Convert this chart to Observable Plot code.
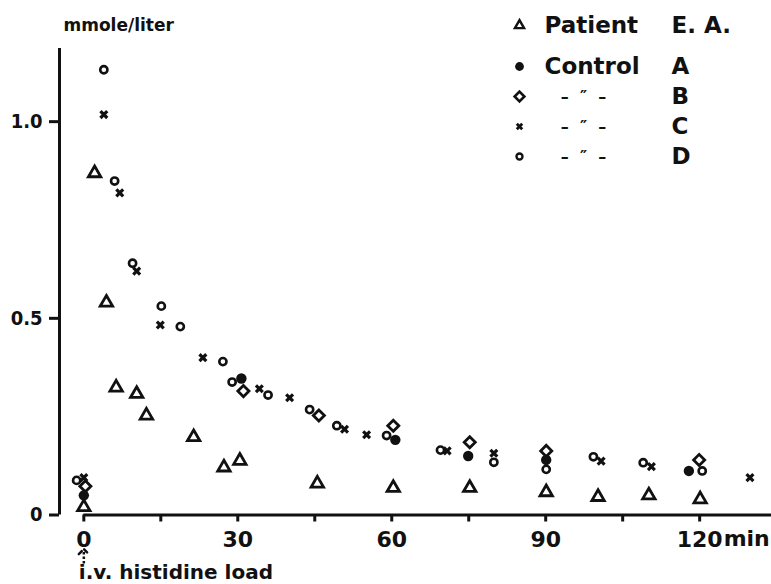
<!DOCTYPE html>
<html>
<head>
<meta charset="utf-8">
<script src="https://cdn.jsdelivr.net/npm/d3@7"></script>
<script src="https://cdn.jsdelivr.net/npm/@observablehq/plot@0.6"></script>
<style>
  html, body { margin: 0; padding: 0; background: #fff; }
  #wrap { position: relative; width: 771px; height: 584px; }
  #legend { position: absolute; left: 490px; top: 0; }
</style>
</head>
<body>
<div id="wrap"><div id="chart"></div><div id="legend"></div></div>
<script>
// ---- data (minutes after i.v. histidine load, mmole/liter) ----
const patientT = [0, 2.1, 4.4, 6.3, 10.3, 12.2, 21.4, 27.3, 30.4, 45.5, 60.3, 75.2, 90.1, 100.2, 110.1, 120.1];
const patientV = [0.02, 0.869, 0.54, 0.324, 0.308, 0.253, 0.198, 0.121, 0.138, 0.080, 0.069, 0.069, 0.058, 0.046, 0.050, 0.040];

const controlA_T = [0, 30.7, 60.7, 74.9, 90.1, 117.9];
const controlA_V = [0.05, 0.347, 0.191, 0.150, 0.140, 0.112];

const controlB_T = [0.3, 31.1, 45.8, 60.3, 75.2, 90.1, 119.9];
const controlB_V = [0.073, 0.315, 0.253, 0.227, 0.185, 0.163, 0.140];

const controlC_T = [0, 3.9, 7.0, 10.3, 14.9, 23.2, 34.2, 40.1, 50.8, 55.1, 70.8, 79.9, 100.8, 110.6, 129.8];
const controlC_V = [0.095, 1.018, 0.819, 0.620, 0.483, 0.400, 0.321, 0.298, 0.218, 0.204, 0.163, 0.157, 0.137, 0.123, 0.095];

const controlD_T = [-1.4, 3.9, 6.0, 9.5, 15.1, 18.8, 27.1, 28.9, 35.9, 44.0, 49.3, 59.0, 69.5, 79.9, 90.1, 99.3, 109.0, 120.5];
const controlD_V = [0.088, 1.132, 0.849, 0.640, 0.531, 0.479, 0.390, 0.338, 0.305, 0.268, 0.227, 0.202, 0.165, 0.134, 0.116, 0.148, 0.133, 0.112];

// axes
const xDomain = [-4.74, 134];
const yDomain = [0, 1.186];
const xTickMarks = [0, 15, 30, 45, 60, 75, 90, 105, 120];
const xTickLabels = [0, 30, 60, 90, 120];
const yTicks = [0, 0.5, 1.0];
const yLabel = "mmole/liter";
const xUnit = "min";
const loadTime = 0;
const loadLabel = "i.v. histidine load";
const loadArrow = [-0.123, -0.093]; // arrow from / to (below the axis)

// legend
const legendHeader = { label: "Patient", code: "E. A.", symbol: "triangle" };
const legendCodes = ["A", "B", "C", "D"];
const legendLabels = ["Control", "–  \u2033  –", "–  \u2033  –", "–  \u2033  –"];
const legendSymbols = ["circle", "diamond2", "times", "circle"];
const legendFilled = [true, false, false, false];

const rows = (T, V) => T.map((t, i) => ({ t, v: V[i] }));
const patient = rows(patientT, patientV);
const A = rows(controlA_T, controlA_V);
const B = rows(controlB_T, controlB_V);
const C = rows(controlC_T, controlC_V);
const D = rows(controlD_T, controlD_V);

const FONT = "DejaVu Sans";
const INK = "#111";

const chart = Plot.plot({
  width: 771,
  height: 584,
  marginLeft: 59,
  marginRight: 0,
  marginTop: 48,
  marginBottom: 69.5,
  x: { domain: xDomain },
  y: { domain: yDomain },
  style: { fontFamily: FONT, fontWeight: "bold", background: "white", color: INK, overflow: "visible" },
  marks: [
    // y axis line and ticks
    Plot.ruleX([xDomain[0]], { y1: yDomain[0], y2: yDomain[1], stroke: INK, strokeWidth: 3 }),
    Plot.axisY(yTicks, {
      tickSize: 10, tickPadding: 7, strokeWidth: 3, fontSize: 20, fontWeight: "bold",
      fontFamily: "DejaVu Sans Condensed, DejaVu Sans",
      tickFormat: d => d === 0 ? "0" : d.toFixed(1), label: null
    }),
    // x axis line and ticks
    Plot.ruleY([0], { x1: loadTime, x2: xDomain[1], stroke: INK, strokeWidth: 3 }),
    Plot.axisX(xTickMarks, {
      tickSize: 7, tickPadding: 9, strokeWidth: 3, fontSize: 22, fontWeight: "bold",
      tickFormat: d => xTickLabels.includes(d) ? String(d) : "", label: null
    }),
    Plot.text([xUnit], { x: xTickLabels[xTickLabels.length - 1], frameAnchor: "bottom", dy: 24, dx: 24,
      lineAnchor: "middle", textAnchor: "start", fontSize: 22, fontWeight: "bold", fill: INK }),
    // y label
    Plot.text([yLabel], { frameAnchor: "top-left", dx: 4, dy: -23, lineAnchor: "middle", textAnchor: "start",
      fontSize: 17, fontWeight: "bold", fill: INK }),
    // load marker
    Plot.link([loadTime], { x1: d => d, x2: d => d, y1: loadArrow[0], y2: loadArrow[1],
      stroke: INK, strokeWidth: 2.5, strokeDasharray: "2.5,2", markerEnd: "arrow" }),
    Plot.text([loadLabel], { x: loadTime, frameAnchor: "bottom", dy: 58, dx: -5, lineAnchor: "middle", textAnchor: "start",
      fontSize: 20, fontWeight: "bold", fill: INK }),
    // data
    Plot.dot(patient, { x: "t", y: "v", symbol: "triangle", r: 4.6, stroke: INK, strokeWidth: 2.8, fill: "none" }),
    Plot.dot(D, { x: "t", y: "v", symbol: "circle", r: 3.6, stroke: INK, strokeWidth: 2.6, fill: "none" }),
    Plot.dot(B, { x: "t", y: "v", symbol: "diamond2", r: 5.0, stroke: INK, strokeWidth: 2.8, fill: "none" }),
    Plot.dot(C, { x: "t", y: "v", symbol: "times", r: 3.2, stroke: INK, strokeWidth: 3.2 }),
    Plot.dot(A, { x: "t", y: "v", symbol: "circle", r: 5.2, fill: INK, stroke: "none" })
  ]
});
document.getElementById("chart").appendChild(chart);

// legend as a small Plot
const legendRows = legendCodes.map((code, i) => ({ code, label: legendLabels[i], symbol: legendSymbols[i], filled: legendFilled[i] }));
const legend = Plot.plot({
  width: 281,
  height: 180,
  margin: 0,
  y: { type: "point", domain: legendCodes, range: [65, 157], padding: 0, axis: null },
  style: { fontFamily: FONT, fontWeight: "bold", background: "transparent", color: INK },
  marks: [
    // header row
    Plot.dot([legendHeader], { frameAnchor: "top-left", dx: 29, dy: 25, symbol: "triangle", r: 3.4, stroke: INK, strokeWidth: 2.4, fill: "none" }),
    Plot.text([legendHeader], { text: "label", frameAnchor: "top-left", dx: 54, dy: 25, lineAnchor: "middle", textAnchor: "start", fontSize: 23, fontWeight: "bold", fill: INK }),
    Plot.text([legendHeader], { text: "code", frameAnchor: "top-left", dx: 181, dy: 25, lineAnchor: "middle", textAnchor: "start", fontSize: 23, fontWeight: "bold", fill: INK }),
    // control rows
    Plot.dot(legendRows.filter(d => d.filled), { y: "code", symbol: "symbol", frameAnchor: "left", dx: 29, r: 4.4, fill: INK, stroke: "none" }),
    Plot.dot(legendRows.filter(d => d.symbol === "diamond2"), { y: "code", symbol: "symbol", frameAnchor: "left", dx: 29, r: 4.4, stroke: INK, strokeWidth: 2.6, fill: "none" }),
    Plot.dot(legendRows.filter(d => d.symbol === "times"), { y: "code", symbol: "symbol", frameAnchor: "left", dx: 29, r: 2.6, stroke: INK, strokeWidth: 2.8 }),
    Plot.dot(legendRows.filter(d => !d.filled && d.symbol === "circle"), { y: "code", symbol: "symbol", frameAnchor: "left", dx: 29, r: 3.0, stroke: INK, strokeWidth: 2.4, fill: "none" }),
    Plot.text(legendRows.slice(0, 1), { y: "code", text: "label", frameAnchor: "left", dx: 54, textAnchor: "start", fontSize: 23, fontWeight: "bold", fill: INK }),
    Plot.text(legendRows.slice(1), { y: "code", text: "label", frameAnchor: "left", dx: 93, textAnchor: "middle", fontSize: 16, fontWeight: "bold", fill: INK }),
    Plot.text(legendRows, { y: "code", text: "code", frameAnchor: "left", dx: 181, textAnchor: "start", fontSize: 23, fontWeight: "bold", fill: INK })
  ]
});
document.getElementById("legend").appendChild(legend);
</script>
</body>
</html>
